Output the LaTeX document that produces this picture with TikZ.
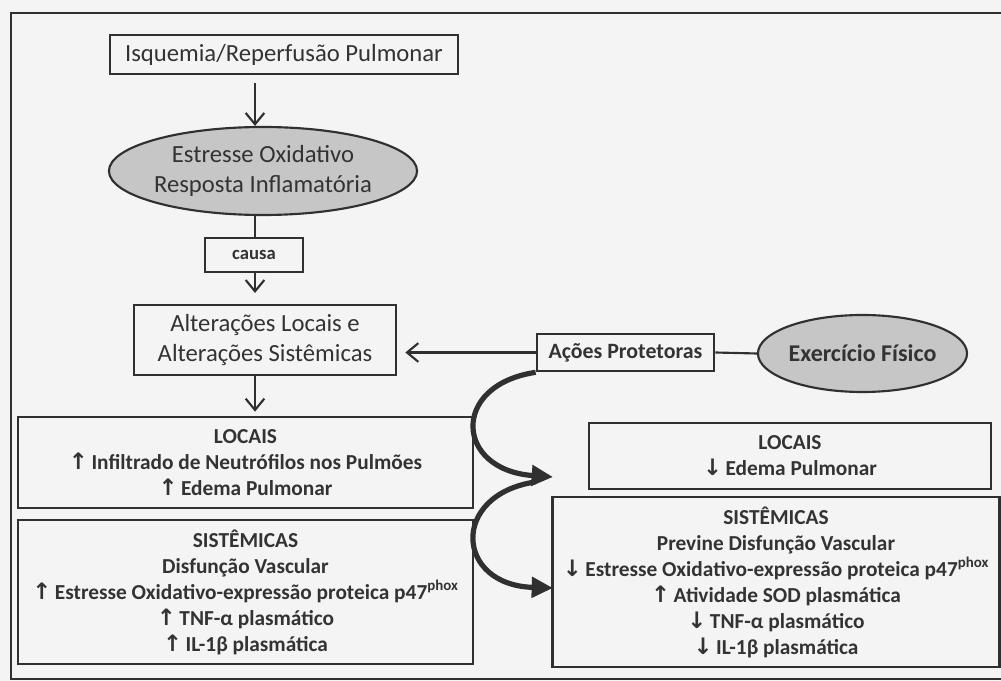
\documentclass[tikz,border=0pt]{standalone}
\usepackage{fontspec}
\setmainfont{Carlito}
\newfontfamily\arrfont{DejaVu Sans}
\usetikzlibrary{arrows.meta,shapes.geometric}
\definecolor{ink}{HTML}{303030}
\definecolor{txt}{HTML}{333333}
\definecolor{ovalfill}{HTML}{C6C6C6}
\definecolor{paper}{HTML}{F4F4F4}
\newcommand\uarr{{\arrfont\bfseries\fontsize{17}{19.5}\selectfont ↑}}
\newcommand\darr{{\arrfont\bfseries\fontsize{17}{19.5}\selectfont ↓}}
\begin{document}
\begin{tikzpicture}[x=0.75pt,y=-0.75pt,
  box/.style={draw=ink, line width=2pt, inner sep=0pt, text=txt, align=center},
  oval/.style={ellipse, draw=ink, line width=1.6pt, fill=ovalfill, inner sep=0pt, text=txt, align=center},
  big/.style={font=\fontsize{18.5}{22}\selectfont},
  bigb/.style={font=\bfseries\fontsize{18}{22}\selectfont},
  mid/.style={font=\bfseries\fontsize{16}{19.5}\selectfont},
  flow/.style={draw=ink, line width=1.6pt, -{Straight Barb[length=8.5pt,width=14pt]}},
  link/.style={draw=ink, line width=1.6pt},
  curvearrow/.style={draw=ink, line width=3.9pt, -{Triangle[length=16pt,width=15pt]}}]
\useasboundingbox (0,0) rectangle (1001,681);
\clip (0,0) rectangle (1001,681);
\fill[paper] (0,0) rectangle (1001,681);
\draw[ink, line width=1.9pt] (1010,13) -- (11,13) -- (11,679) -- (1010,679);

\coordinate (sp) at (255,0);

\node[box, big, minimum width=261pt, minimum height=29.25pt] (isq) at (284,54.5) {Isquemia/Reperfusão Pulmonar};
\node[oval, big, minimum width=225pt, minimum height=66pt] (oxi) at (263,171) {Estresse Oxidativo\\Resposta Inflamatória};
\node[box, font=\bfseries\fontsize{14}{16}\selectfont, minimum width=73.5pt, minimum height=25.5pt] (causa) at (254,255) {causa};
\node[box, big, minimum width=196.5pt, minimum height=52.5pt] (alt) at (265,340) {Alterações Locais e\\Alterações Sistêmicas};

\node[box, mid, minimum width=341.25pt, minimum height=68.25pt] (lloc) at (245.5,462.5)
  {LOCAIS\\ \uarr\,Infiltrado de Neutrófilos nos Pulmões\\ \uarr\,Edema Pulmonar};
\node[box, mid, minimum width=341.25pt, minimum height=108pt] (lsis) at (245.5,592)
  {SISTÊMICAS\\ Disfunção Vascular\\ \uarr\,Estresse Oxidativo-expressão proteica p47\textsuperscript{phox}\\ \uarr\,TNF-α plasmático\\ \uarr\,IL-1β plasmática};

\node[box, font=\bfseries\fontsize{16.4}{19}\selectfont, minimum width=132.75pt, minimum height=27.75pt] (acoes) at (625.5,352.5) {Ações Protetoras};
\node[oval, bigb, minimum width=149.25pt, minimum height=57.75pt] (exer) at (862.5,353.5) {Exercício Físico};

\node[box, mid, minimum width=301.5pt, minimum height=49.5pt] (rloc) at (790,456)
  {LOCAIS\\ \darr\,Edema Pulmonar};
\node[box, mid, minimum width=335.25pt, minimum height=127.5pt] (rsis) at (776,582)
  {SISTÊMICAS\\ Previne Disfunção Vascular\\ \darr\,Estresse Oxidativo-expressão proteica p47\textsuperscript{phox}\\ \uarr\,Atividade SOD plasmática\\ \darr\,TNF-α plasmático\\ \darr\,IL-1β plasmática};

\draw[flow, shorten <=6pt] (isq.south -| sp) -- (oxi.north -| sp);
\draw[link] (oxi.south -| sp) -- (causa.north -| sp);
\draw[flow, shorten >=8pt] (causa.south -| sp) -- (alt.north -| sp);
\draw[flow, shorten >=3pt] (alt.south -| sp) -- (lloc.north -| sp);
\draw[flow, shorten >=6pt] (acoes.west) -- (acoes.west -| alt.east);
\draw[link] (acoes.east) -- (exer.west);

\coordinate (tip1) at (553,477);
\coordinate (c2s) at (535,482);
\coordinate (tip2) at (553,588);
\draw[curvearrow] (acoes.south west) .. controls (450,385) and (455,470) .. (tip1);
\draw[curvearrow] (c2s) .. controls (450,495) and (455,585) .. (tip2);
\end{tikzpicture}
\end{document}
